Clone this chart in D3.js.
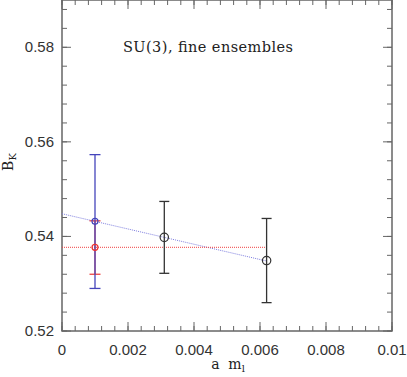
<!DOCTYPE html>
<html>
<head>
<meta charset="utf-8">
<script src="https://cdn.jsdelivr.net/npm/d3@7"></script>
<style>
  body { margin: 0; background: #fff; }
  svg { display: block; }
  .tick-label { font-family: "Liberation Sans", sans-serif; font-size: 15px; fill: #333; }
  .serif { font-family: "DejaVu Serif", serif; fill: #222; }
</style>
</head>
<body>
<div id="chart"></div>
<script>
// ensemble masses and B_K values
const blackMass = [0.0031, 0.0062];
const blackBK = [0.5398, 0.5349];
const blackLo = [0.5322, 0.5260];
const blackHi = [0.5474, 0.5438];

// extrapolated points at a m_l = 0.001
const extrapMass = 0.001;
const blueBK = 0.5432, blueLo = 0.5290, blueHi = 0.5573;
const redBK = 0.5377, redLo = 0.5320, redHi = 0.5433;

// fit lines: [x, y] end points
const blueFit = [[0, 0.5448], [0.0062, 0.5348]];
const redFit = [[0, 0.5377], [0.0062, 0.5377]];

const xTicks = [0, 0.002, 0.004, 0.006, 0.008, 0.01];
const xTickLabels = ["0", "0.002", "0.004", "0.006", "0.008", "0.01"];
const yTicks = [0.52, 0.54, 0.56, 0.58];
const yTickLabels = ["0.52", "0.54", "0.56", "0.58"];

const width = 407, height = 377;
const margin = { top: 0, left: 62, right: 15, bottom: 46 };
const iwidth = width - margin.left - margin.right;
const iheight = height - margin.top - margin.bottom;

const svg = d3.select("#chart").append("svg")
  .attr("width", width).attr("height", height);

const g = svg.append("g").attr("transform", `translate(${margin.left},${margin.top})`);

const x = d3.scaleLinear().domain([0, 0.01]).range([0, iwidth]);
const y = d3.scaleLinear().domain([0.52, 0.59]).range([iheight, 0]);

const frameColor = "#666";

// minor ticks
const xMinor = d3.range(0, 0.01001, 0.0004);
const yMinor = d3.range(0.52, 0.5901, 0.004);

function tickSet(vals, len) {
  vals.forEach(v => {
    g.append("line").attr("x1", x(v)).attr("x2", x(v)).attr("y1", iheight).attr("y2", iheight - len)
      .attr("stroke", frameColor);
    g.append("line").attr("x1", x(v)).attr("x2", x(v)).attr("y1", 0).attr("y2", len)
      .attr("stroke", frameColor);
  });
}
tickSet(xMinor, 5);
tickSet(xTicks, 9);

function yTickSet(vals, len) {
  vals.forEach(v => {
    g.append("line").attr("y1", y(v)).attr("y2", y(v)).attr("x1", 0).attr("x2", len)
      .attr("stroke", frameColor);
    g.append("line").attr("y1", y(v)).attr("y2", y(v)).attr("x1", iwidth).attr("x2", iwidth - len)
      .attr("stroke", frameColor);
  });
}
yTickSet(yMinor, 5);
yTickSet(yTicks, 9);

g.append("rect").attr("x", 0).attr("y", 0).attr("width", iwidth).attr("height", iheight)
  .attr("fill", "none").attr("stroke", frameColor).attr("stroke-width", 1.5);

// tick labels
g.selectAll(".xl").data(xTicks).enter().append("text")
  .attr("class", "tick-label")
  .attr("x", d => x(d)).attr("y", iheight + 24)
  .attr("text-anchor", "middle")
  .text((d, i) => xTickLabels[i]);

g.selectAll(".yl").data(yTicks).enter().append("text")
  .attr("class", "tick-label")
  .attr("x", -8).attr("y", d => y(d) + 5)
  .attr("text-anchor", "end")
  .text((d, i) => yTickLabels[i]);

// axis titles
const xt = svg.append("text").attr("class", "serif").attr("font-size", 14)
  .attr("x", 228).attr("y", 369).attr("text-anchor", "middle");
xt.append("tspan").text("a\u00a0\u00a0m");
xt.append("tspan").attr("font-size", 10).attr("dy", 3).text("l");

const yt = svg.append("text").attr("class", "serif").attr("font-size", 14)
  .attr("transform", "translate(13,162) rotate(-90)").attr("text-anchor", "middle");
yt.append("tspan").text("B");
yt.append("tspan").attr("font-size", 10).attr("dy", 3).text("K");

svg.append("text").attr("class", "serif").attr("font-size", 14.5)
  .attr("x", 123).attr("y", 52)
  .attr("textLength", 170).attr("lengthAdjust", "spacing")
  .text("SU(3), fine ensembles");

// fit lines
const line = d3.line().x(d => x(d[0])).y(d => y(d[1]));
g.append("path").attr("d", line(blueFit)).attr("fill", "none")
  .attr("stroke", "#8080e0").attr("stroke-width", 1).attr("stroke-dasharray", "1,1");
g.append("path").attr("d", line(redFit)).attr("fill", "none")
  .attr("stroke", "#f04040").attr("stroke-width", 1).attr("stroke-dasharray", "1,1");

function errBar(xv, lo, hi, color, cap) {
  g.append("line").attr("x1", x(xv)).attr("x2", x(xv)).attr("y1", y(lo)).attr("y2", y(hi))
    .attr("stroke", color).attr("stroke-width", 1.3);
  [lo, hi].forEach(v => {
    g.append("line").attr("x1", x(xv) - cap).attr("x2", x(xv) + cap).attr("y1", y(v)).attr("y2", y(v))
      .attr("stroke", color).attr("stroke-width", 1.3);
  });
}

// red error bar then blue
errBar(extrapMass, redLo, redHi, "#ee4444", 5.5);
errBar(extrapMass, blueLo, blueHi, "#4444bb", 5.5);
g.append("circle").attr("cx", x(extrapMass)).attr("cy", y(redBK)).attr("r", 3)
  .attr("fill", "none").attr("stroke", "#ee3333").attr("stroke-width", 1.2);
g.append("circle").attr("cx", x(extrapMass)).attr("cy", y(blueBK)).attr("r", 3)
  .attr("fill", "none").attr("stroke", "#4444bb").attr("stroke-width", 1.2);

blackMass.forEach((m, i) => {
  errBar(m, blackLo[i], blackHi[i], "#333", 5);
  g.append("circle").attr("cx", x(m)).attr("cy", y(blackBK[i])).attr("r", 4.2)
    .attr("fill", "none").attr("stroke", "#333").attr("stroke-width", 1.2);
});
</script>
</body>
</html>
